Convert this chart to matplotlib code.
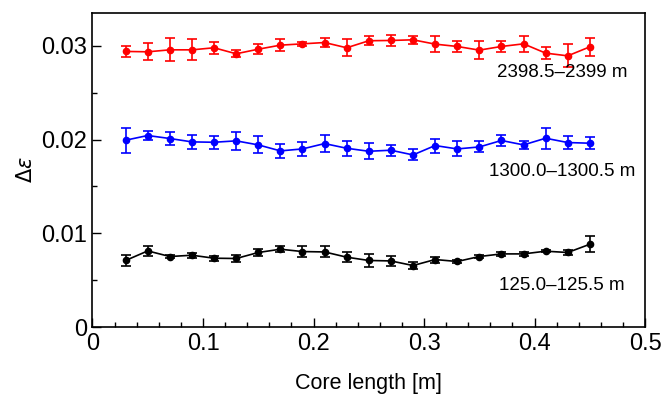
import matplotlib
matplotlib.use("Agg")
import matplotlib.pyplot as plt
from matplotlib.ticker import MultipleLocator

plt.rcParams['font.family'] = ['Liberation Sans', 'DejaVu Sans']
plt.rcParams['mathtext.fontset'] = 'dejavusans'

# core length positions [m]
core_len = [0.03, 0.05, 0.07, 0.09, 0.11, 0.13, 0.15, 0.17, 0.19, 0.21, 0.23,
            0.25, 0.27, 0.29, 0.31, 0.33, 0.35, 0.37, 0.39, 0.41, 0.43, 0.45]

# 2398.5-2399 m
deep = [0.02940, 0.02936, 0.02957, 0.02957, 0.02979, 0.02915, 0.02964, 0.03007,
        0.03021, 0.03035, 0.02979, 0.03054, 0.03057, 0.03064, 0.03018, 0.02993,
        0.02954, 0.02993, 0.03021, 0.02922, 0.02893, 0.02989]
deep_err = [0.00063, 0.00089, 0.00121, 0.00113, 0.00064, 0.00039, 0.00054, 0.00063,
            0.00021, 0.00048, 0.00089, 0.00048, 0.00059, 0.00043, 0.00086, 0.00055,
            0.00093, 0.00055, 0.00088, 0.00064, 0.00121, 0.00093]

# 1300.0-1300.5 m
mid = [0.01993, 0.02043, 0.02011, 0.01975, 0.01971, 0.01986, 0.01943, 0.01879,
       0.01900, 0.01957, 0.01907, 0.01875, 0.01886, 0.01836, 0.01936, 0.01900,
       0.01921, 0.01990, 0.01943, 0.02014, 0.01968, 0.01961]
mid_err = [0.00132, 0.00048, 0.00071, 0.00077, 0.00071, 0.00093, 0.00091, 0.00073,
           0.00075, 0.00088, 0.00079, 0.00084, 0.00061, 0.00059, 0.00075, 0.00080,
           0.00059, 0.00055, 0.00045, 0.00113, 0.00073, 0.00061]

# 125.0-125.5 m
shallow = [0.00710, 0.00812, 0.00752, 0.00766, 0.00734, 0.00731, 0.00795, 0.00830,
           0.00805, 0.00801, 0.00745, 0.00710, 0.00705, 0.00656, 0.00720, 0.00699,
           0.00752, 0.00780, 0.00780, 0.00809, 0.00795, 0.00883]
shallow_err = [0.00062, 0.00053, 0.00014, 0.00028, 0.00027, 0.00037, 0.00041, 0.00035,
               0.00059, 0.00059, 0.00053, 0.00069, 0.00050, 0.00039, 0.00032, 0.00018,
               0.00014, 0.00021, 0.00021, 0.00014, 0.00023, 0.00085]

depth_labels = ["2398.5\u20132399 m", "1300.0\u20131300.5 m", "125.0\u2013125.5 m"]
label_y = [0.02715, 0.01658, 0.00448]

x_ticks = [0, 0.1, 0.2, 0.3, 0.4, 0.5]
x_ticklabels = ['0', '0.1', '0.2', '0.3', '0.4', '0.5']
y_ticks = [0, 0.01, 0.02, 0.03]
y_ticklabels = ['0', '0.01', '0.02', '0.03']

fig = plt.figure(figsize=(6.63, 3.94), dpi=100)
ax = fig.add_axes([0.1395, 0.170, 0.8335, 0.797])

series = [(deep, deep_err, '#ff0000'), (mid, mid_err, '#0000ff'), (shallow, shallow_err, 'black')]
for (vals, err, col), lab, ly in zip(series, depth_labels, label_y):
    ax.errorbar(core_len, vals, yerr=err, color=col, marker='o', markersize=4.5,
                linewidth=1.2, elinewidth=1.2, capsize=3.5, capthick=1.2)
    ax.text(0.425, ly, lab, ha='center', va='center', fontsize=13.5)

ax.set_xlim(0, 0.5)
ax.set_ylim(0, 0.0335)
ax.set_xticks(x_ticks)
ax.set_xticklabels(x_ticklabels)
ax.xaxis.set_minor_locator(MultipleLocator(0.02))
ax.set_yticks(y_ticks)
ax.set_yticklabels(y_ticklabels)
ax.yaxis.set_minor_locator(MultipleLocator(0.005))
ax.tick_params(which='both', direction='in', top=False, right=False, labelsize=17)
ax.tick_params(which='major', length=6.5, width=1.0)
ax.tick_params(which='minor', length=3.5, width=1.0)
ax.tick_params(axis='x', pad=4)
ax.tick_params(axis='y', pad=4)
for s in ax.spines.values():
    s.set_linewidth(1.2)

ax.set_xlabel('Core length [m]', fontsize=15.5, labelpad=13)
ax.set_ylabel(r'$\Delta\varepsilon$', fontsize=15, labelpad=4)

fig.savefig('out.png', dpi=100)
